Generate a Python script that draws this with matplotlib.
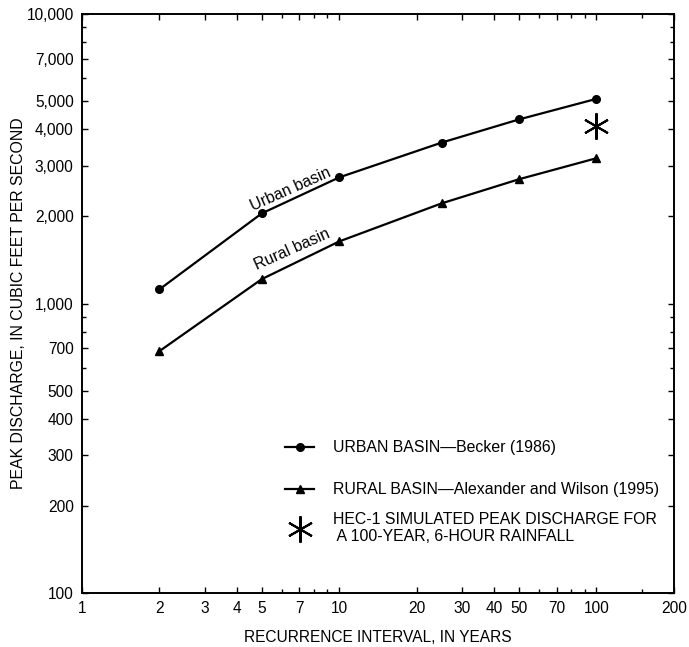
import numpy as np
import matplotlib
matplotlib.use("Agg")
import matplotlib.pyplot as plt
from matplotlib.ticker import FixedLocator, FixedFormatter, NullFormatter

plt.rcParams['font.family'] = ['Liberation Sans', 'DejaVu Sans']

# recurrence interval, years
years = [2, 5, 10, 25, 50, 100]
urban_peak = [1120, 2050, 2730, 3600, 4330, 5100]
rural_peak = [685, 1215, 1640, 2220, 2690, 3180]
hec1_year = [100]
hec1_peak = [4100]

x_ticks = [1, 2, 3, 4, 5, 7, 10, 20, 30, 40, 50, 70, 100, 200]
x_minor = [6, 8, 9, 60, 80, 90, 150]
y_ticks = [100, 200, 300, 400, 500, 700, 1000, 2000, 3000, 4000, 5000, 7000, 10000]
y_minor = [600, 800, 900, 6000, 8000, 9000]

fig = plt.figure(figsize=(6.89, 6.47), dpi=100)
ax = fig.add_axes([0.119, 0.0835, 0.859, 0.8945])

l1, = ax.plot(years, urban_peak, color='black', lw=1.6, marker='o', ms=5.5,
              label='URBAN BASIN\u2014Becker (1986)')
l2, = ax.plot(years, rural_peak, color='black', lw=1.6, marker='^', ms=5.5,
              label='RURAL BASIN\u2014Alexander and Wilson (1995)')
l3, = ax.plot(hec1_year, hec1_peak, ls='none', color='black', marker=(6, 2, 0),
              ms=19, mew=1.5,
              label='HEC-1 SIMULATED PEAK DISCHARGE FOR\n A 100-YEAR, 6-HOUR RAINFALL')

ax.set_xscale('log')
ax.set_yscale('log')
ax.set_xlim(1, 200)
ax.set_ylim(100, 10000)

ax.xaxis.set_major_locator(FixedLocator(x_ticks))
ax.xaxis.set_major_formatter(FixedFormatter([str(v) for v in x_ticks]))
ax.xaxis.set_minor_locator(FixedLocator(x_minor))
ax.xaxis.set_minor_formatter(NullFormatter())
ax.yaxis.set_major_locator(FixedLocator(y_ticks))
ax.yaxis.set_major_formatter(FixedFormatter([f"{v:,}" for v in y_ticks]))
ax.yaxis.set_minor_locator(FixedLocator(y_minor))
ax.yaxis.set_minor_formatter(NullFormatter())

ax.tick_params(which='both', direction='in', top=True, right=True,
               labelsize=11.2, width=1)
ax.tick_params(which='major', length=4)
ax.tick_params(which='minor', length=3)
ax.tick_params(axis='x', pad=6)
ax.tick_params(axis='y', pad=6)
for s in ax.spines.values():
    s.set_linewidth(1.4)

ax.set_xlabel('RECURRENCE INTERVAL, IN YEARS', fontsize=11.2, labelpad=10)
ax.set_ylabel('PEAK DISCHARGE, IN CUBIC FEET PER SECOND', fontsize=11.4, labelpad=0.5)

ax.text(6.45, 2480, 'Urban basin', rotation=24, fontsize=11.5,
        ha='center', va='center', rotation_mode='anchor')
ax.text(6.55, 1545, 'Rural basin', rotation=24, fontsize=11.5,
        ha='center', va='center', rotation_mode='anchor')

leg_opts = dict(frameon=False, fontsize=11.4, handlelength=1.85,
                handletextpad=1.2, borderpad=0, borderaxespad=0)
leg1 = ax.legend(handles=[l1, l2], loc='upper left', bbox_to_anchor=(0.343, 0.264),
                 labelspacing=1.7, **leg_opts)
ax.add_artist(leg1)
ax.legend(handles=[l3], loc='center left', bbox_to_anchor=(0.343, 0.112), **leg_opts)

fig.savefig('out.png', dpi=100)
